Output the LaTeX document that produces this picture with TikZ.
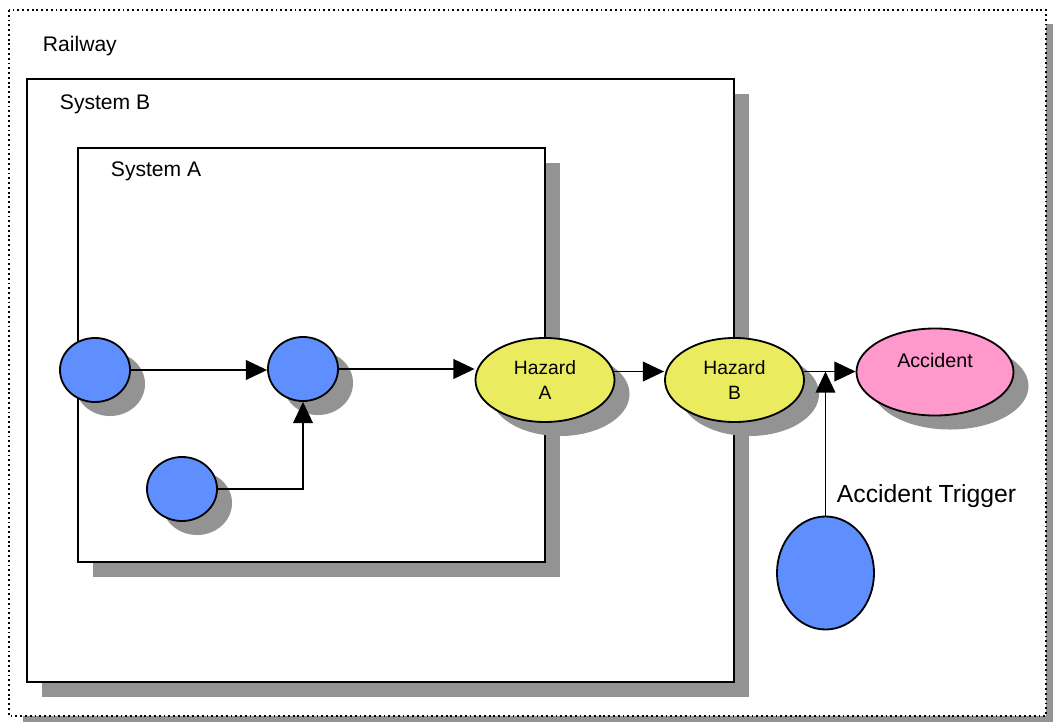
\documentclass[tikz,border=0pt]{standalone}
\usepackage{fontspec}
\setmainfont{Liberation Sans}
\usetikzlibrary{shadows,arrows.meta,calc,shapes.geometric}
\definecolor{shgray}{HTML}{939393}
\definecolor{nodeblue}{HTML}{5F8FFF}
\definecolor{hazyellow}{HTML}{EBEB5F}
\definecolor{accpink}{HTML}{FF99CC}
\begin{document}
\begin{tikzpicture}[x=0.025cm,y=-0.025cm,
  sysbox/.style={draw=black, line width=1.7pt, fill=white,
    drop shadow={shadow xshift=0.375cm, shadow yshift=-0.375cm, fill=shgray, opacity=1}},
  railbox/.style={draw=black, fill=white, line width=1.2pt, dash pattern=on 1.3pt off 2.1pt},
  ell/.style={ellipse, draw=black, line width=1.3pt, inner sep=0pt},
  shad/.style={drop shadow={shadow xshift=0.375cm, shadow yshift=-0.35cm, fill=shgray, opacity=1}},
  bluenode/.style={ell, shad, fill=nodeblue, minimum width=1.75cm, minimum height=1.6cm},
  haz/.style={ell, shad, fill=hazyellow, minimum width=3.475cm, minimum height=2.1cm,
    align=center, font=\fontsize{13.7}{18.3}\selectfont},
  acc/.style={ell, shad, fill=accpink, minimum width=3.925cm, minimum height=2.175cm},
  trig/.style={ell, fill=nodeblue, minimum width=2.425cm, minimum height=2.825cm},
  arr/.style={-{Triangle[length=15pt,width=14pt]}, line width=1pt},
  lbl/.style={anchor=base west, font=\fontsize{15}{18}\selectfont}
]
\useasboundingbox (0,0) rectangle (1053,722);
% Railway frame with shadow
\fill[shgray] (23,24) rectangle (1053,722);
\draw[railbox] (9,10) rectangle (1046,716);
\node[lbl] (railway) at (38,52) {Railway};
% System B
\draw[sysbox] (27,79) rectangle (734,682);
\node[lbl] (sysB) at (55,110) {System B};
% System A
\draw[sysbox] (78,148) rectangle (545,562);
\node[lbl] (sysA) at (106,177) {System A};
% nodes
\node[bluenode] (b1) at (95,370) {};
\node[bluenode] (b2) at (303,369) {};
\node[bluenode] (b3) at (182,489) {};
\node[haz] (hA) at (545,380) {Hazard\\A};
\node[haz] (hB) at (734.5,380) {Hazard\\B};
\node[acc] (ac) at (935,372) {};
\node[anchor=base, font=\fontsize{14}{17}\selectfont] (actext) at (935,367) {Accident};
\node[trig] (tr) at (825.5,573) {};
\node[anchor=base west, font=\fontsize{17.6}{21}\selectfont] (trlabel) at (832,502) {Accident Trigger};
% connectors
\draw[arr] (b1.east) -- (b1.east -| b2.west);
\draw[arr] (b2.east) -- (b2.east -| hA.west);
\draw[arr] (b3.east) -| (b2.south);
\draw[arr] (hA.7.5) -- (hA.7.5 -| hB.west);
\draw[arr] (hB.7.5) -- (hB.7.5 -| ac.west);
\draw[arr] (tr.north) -- (tr.north |- hB.7.5);
\end{tikzpicture}
\end{document}
